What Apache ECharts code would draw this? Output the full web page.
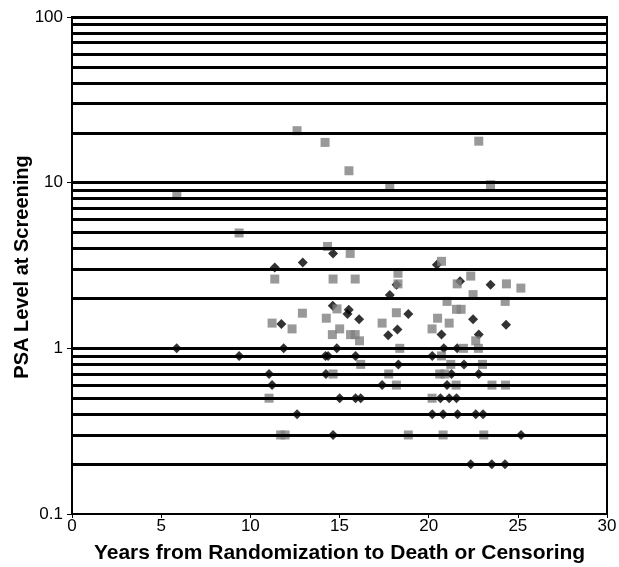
<!DOCTYPE html>
<html>
<head>
<meta charset="utf-8">
<script src="https://cdn.jsdelivr.net/npm/echarts@6/dist/echarts.min.js"></script>
<style>
html,body{margin:0;padding:0;background:#fff;}
#chart{width:619px;height:567px;}
</style>
</head>
<body>
<div id="chart"></div>
<script>
// Black diamonds: [years, PSA]
var diamondSeries = [
  [5.87,1.0],[9.37,0.9],[11.05,0.7],[11.22,0.6],[11.37,3.08],[11.74,1.4],[11.87,1.0],[12.62,0.4],
  [12.94,3.3],[14.21,0.9],[14.36,0.9],[14.24,0.7],[14.64,0.3],[14.62,1.81],[14.64,3.74],[14.85,1.0],
  [15.01,0.5],[15.52,1.71],[15.45,1.61],[16.1,1.5],[15.9,0.9],[15.9,0.5],[16.19,0.5],[17.39,0.6],
  [17.73,1.2],[17.82,2.1],[18.2,2.42],[18.25,1.3],[18.3,0.8],[18.86,1.61],[20.2,0.9],[20.2,0.4],
  [20.46,3.2],[20.66,0.5],[20.72,1.21],[20.81,0.4],[20.85,1.0],[21.03,0.6],[21.15,0.5],[21.28,0.7],
  [21.56,0.5],[21.6,1.0],[21.62,0.4],[21.76,2.54],[21.98,0.8],[22.36,0.2],[22.49,1.5],[22.64,0.4],
  [22.81,1.21],[22.81,0.7],[23.05,0.4],[23.47,2.42],[23.54,0.2],[24.28,0.2],[24.34,1.39],[25.18,0.3]
];
// Gray squares: [years, PSA]
var squareSeries = [
  [5.88,8.47],[9.37,4.97],[11.05,0.5],[11.22,1.42],[11.37,2.62],[11.7,0.3],[11.95,0.3],[12.34,1.31],
  [12.62,20.6],[12.92,1.63],[14.19,17.5],[14.26,1.52],[14.33,4.12],[14.6,1.21],[14.64,2.62],[14.64,0.7],
  [14.86,1.73],[15.01,1.31],[15.53,11.8],[15.6,3.74],[15.62,1.21],[15.88,1.21],[15.88,2.62],[16.12,1.11],
  [16.19,0.8],[17.39,1.42],[17.76,0.7],[17.82,9.37],[18.19,1.64],[18.19,0.6],[18.28,2.84],[18.28,2.45],
  [18.38,1.0],[18.86,0.3],[20.19,1.31],[20.19,0.5],[20.5,1.52],[20.62,0.7],[20.72,3.35],[20.72,0.9],
  [20.81,0.3],[20.9,0.7],[21.03,1.92],[21.15,1.42],[21.24,0.8],[21.54,0.6],[21.6,2.45],[21.56,1.72],
  [21.82,1.72],[21.95,1.0],[22.36,2.73],[22.49,2.11],[22.64,1.11],[22.79,1.0],[22.81,17.8],[23.02,0.8],
  [23.09,0.3],[23.47,9.72],[23.55,0.6],[24.29,1.92],[24.31,0.6],[24.36,2.45],[25.17,2.31]
];
// Horizontal gridline values
var gridValues = [0.2,0.3,0.4,0.5,0.6,0.7,0.8,0.9,1,2,3,4,5,6,7,8,9,10,20,30,40,50,60,70,80,90,100];
var xLabels = [0,5,10,15,20,25,30];
var yLabels = [0.1,1,10,100];
var yTitle = 'PSA Level at Screening';
var xTitle = 'Years from Randomization to Death or Censoring';

var chart = echarts.init(document.getElementById('chart'));
var font = '"Liberation Sans", Arial, sans-serif';
chart.setOption({
  animation: false,
  backgroundColor: '#ffffff',
  grid: {left: 72, right: 12, top: 17, bottom: 53, outerBoundsMode: 'none', containLabel: false,
    show: true, borderColor: '#000', borderWidth: 2, backgroundColor: 'transparent'},
  graphic: [{
    type: 'text', x: 22, y: 267, rotation: Math.PI / 2,
    style: {text: yTitle, fill: '#000', font: 'bold 20px "Liberation Sans", Arial, sans-serif',
      align: 'center', verticalAlign: 'middle'}
  }],
  xAxis: {
    type: 'value', min: 0, max: 30, interval: 5,
    name: xTitle,
    nameLocation: 'middle', nameGap: 29,
    nameTextStyle: {fontFamily: font, fontSize: 21, fontWeight: 'bold', color: '#000'},
    axisLine: {show: true, lineStyle: {color: '#000', width: 2}},
    axisTick: {show: true, length: 4, lineStyle: {color: '#000'}},
    axisLabel: {fontFamily: font, fontSize: 17, color: '#000', margin: 4,
      formatter: function (v) { return xLabels.indexOf(v) >= 0 ? String(v) : ''; }},
    splitLine: {show: false}
  },
  yAxis: {
    type: 'log', logBase: 10, min: 0.1, max: 100,
    axisLine: {show: true, lineStyle: {color: '#000', width: 2}},
    axisTick: {show: true, length: 5, lineStyle: {color: '#000'}},
    axisLabel: {fontFamily: font, fontSize: 17, color: '#000', margin: 9,
      formatter: function (v) { return yLabels.indexOf(+v.toPrecision(3)) >= 0 ? String(+v.toPrecision(3)) : ''; }},
    splitLine: {show: false}
  },
  series: [
    {
      type: 'scatter', data: [], z: 1, silent: true,
      markLine: {
        silent: true, symbol: ['none', 'none'], animation: false,
        label: {show: false},
        lineStyle: {color: '#000', width: 3, type: 'solid'},
        data: gridValues.map(function (v) { return {yAxis: v}; })
      }
    },
    {
      type: 'scatter', data: diamondSeries, symbol: 'diamond', symbolSize: 10, z: 3,
      itemStyle: {color: '#000'}
    },
    {
      type: 'scatter', data: squareSeries, symbol: 'rect', symbolSize: 9, z: 4,
      itemStyle: {color: '#808080'}
    }
  ]
});
</script>
</body>
</html>
